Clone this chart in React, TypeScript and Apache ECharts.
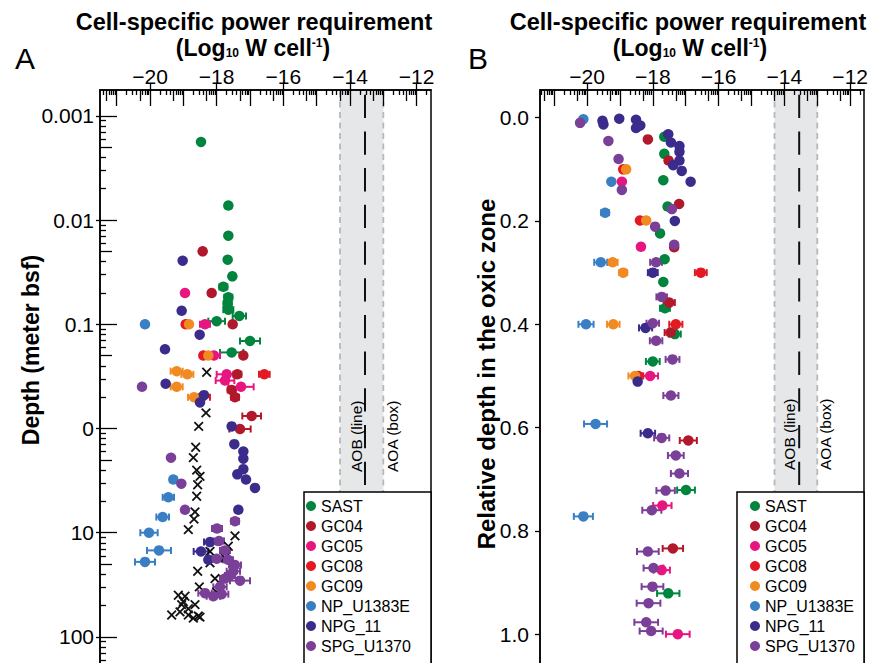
import React, { useEffect, useRef } from 'react';
import * as echarts from 'echarts';

const FONT = '"Liberation Sans", Arial, Helvetica, sans-serif';

const seriesNames = ['SAST', 'GC04', 'GC05', 'GC08', 'GC09', 'NP_U1383E', 'NPG_11', 'SPG_U1370'];
const seriesColors = ['#00843e', '#b2182b', '#e6157f', '#e31a23', '#f28a22', '#3a7fc4', '#3b2c8c', '#7a3f97'];

// Panel A: [log10 W cell-1, log10 depth (m), error half-width]
const sastA = [
  [-18.47, -2.75, 0], [-17.65, -2.14, 0], [-17.65, -1.85, 0], [-17.67, -1.62, 0], [-17.53, -1.46, 0],
  [-17.8, -1.36, 0.12], [-17.65, -1.26, 0.12], [-17.67, -1.2, 0.12], [-17.65, -1.14, 0.15],
  [-17.32, -1.08, 0.2], [-18.0, -1.03, 0.25], [-17.0, -0.84, 0.3], [-17.55, -0.73, 0.35],
];
const gc04A = [
  [-18.42, -1.7, 0], [-18.15, -1.3, 0], [-17.52, -1.0, 0], [-17.2, -0.7, 0], [-17.38, -0.52, 0.12],
  [-17.55, -0.37, 0.12], [-17.45, -0.3, 0.12], [-16.95, -0.12, 0.28], [-17.3, 0.005, 0.32],
];
const gc05A = [
  [-18.95, -1.3, 0], [-18.35, -1.0, 0.15], [-18.08, -0.7, 0.18], [-17.7, -0.52, 0.3],
  [-17.75, -0.46, 0.28], [-17.27, -0.4, 0.38],
];
const gc08A = [
  [-18.93, -1.0, 0], [-18.4, -0.7, 0], [-16.57, -0.52, 0.16], [-18.45, -0.3, 0.25],
];
const gc09A = [
  [-18.83, -1.0, 0], [-18.25, -0.7, 0], [-19.2, -0.55, 0.18], [-18.88, -0.52, 0.18],
  [-19.2, -0.4, 0.18], [-18.68, -0.3, 0.18],
];
const npA = [
  [-20.15, -1.0, 0], [-19.3, 0.49, 0.1], [-19.45, 0.66, 0.17], [-19.62, 0.85, 0.19],
  [-20.03, 1.0, 0.26], [-19.73, 1.17, 0.36], [-20.15, 1.28, 0.3],
];
const npgA = [
  [-19.02, -1.61, 0], [-19.05, -1.13, 0], [-18.51, -0.9, 0], [-19.55, -0.76, 0], [-19.53, -0.43, 0],
  [-18.38, -0.32, 0], [-18.5, -0.25, 0], [-17.55, -0.02, 0], [-17.47, 0.15, 0], [-17.2, 0.22, 0],
  [-17.2, 0.29, 0], [-17.2, 0.39, 0], [-17.38, 0.44, 0], [-17.12, 0.49, 0], [-16.85, 0.57, 0],
  [-17.35, 0.78, 0], [-18.2, 1.09, 0.18], [-18.47, 1.18, 0.22], [-18.25, 1.26, 0],
];
const spgA = [
  [-20.24, -0.4, 0], [-19.37, 0.28, 0], [-19.06, 0.53, 0], [-18.95, 0.78, 0], [-17.45, 0.89, 0.12],
  [-17.99, 0.96, 0.15], [-17.93, 1.08, 0.15], [-17.75, 1.17, 0.15], [-18.0, 1.25, 0.15],
  [-17.66, 1.26, 0.15], [-17.45, 1.31, 0.18], [-17.5, 1.37, 0.2], [-17.6, 1.41, 0.15],
  [-17.75, 1.44, 0.15], [-17.3, 1.46, 0.3], [-17.9, 1.52, 0.2], [-18.35, 1.58, 0.2],
  [-17.85, 1.59, 0.2], [-18.1, 1.61, 0.2],
];
// black crosses in panel A: [log10 W cell-1, log10 depth (m)]
const crossesA = [
  [-18.3, -0.54], [-18.32, -0.15], [-18.54, -0.02], [-18.63, 0.18], [-18.7, 0.28], [-18.6, 0.4],
  [-18.5, 0.46], [-18.57, 0.54], [-18.6, 0.65], [-18.65, 0.8], [-18.68, 0.87], [-18.85, 0.97],
  [-17.45, 1.03], [-17.65, 1.13], [-18.2, 1.18], [-17.75, 1.24], [-18.2, 1.29], [-18.57, 1.37],
  [-18.05, 1.44], [-18.52, 1.52], [-18.0, 1.57], [-19.15, 1.6], [-18.95, 1.61], [-19.05, 1.69],
  [-18.85, 1.73], [-18.65, 1.69], [-19.35, 1.79], [-18.85, 1.79], [-18.5, 1.81], [-18.7, 1.82],
  [-19.1, 1.76], [-19.0, 1.66], [-18.55, 1.8],
];

// Panel B: [log10 W cell-1, relative depth in oxic zone, error half-width]
const sastB = [
  [-17.65, 0.037, 0], [-17.65, 0.07, 0], [-17.68, 0.121, 0], [-17.55, 0.172, 0], [-17.78, 0.224, 0],
  [-17.64, 0.274, 0], [-17.68, 0.318, 0], [-17.63, 0.369, 0.15], [-17.33, 0.419, 0.18],
  [-18.0, 0.472, 0.21], [-16.99, 0.721, 0.27], [-17.53, 0.921, 0.34],
];
const gc04B = [
  [-18.15, 0.042, 0], [-17.52, 0.083, 0], [-17.2, 0.167, 0], [-17.35, 0.251, 0], [-17.5, 0.358, 0.17],
  [-17.46, 0.416, 0.18], [-16.92, 0.625, 0.26], [-17.39, 0.834, 0.31],
];
const gc05B = [
  [-18.94, 0.124, 0], [-18.36, 0.25, 0], [-18.08, 0.5, 0.24], [-17.71, 0.751, 0.28],
  [-17.73, 0.876, 0.25], [-17.24, 1.0, 0.36],
];
const gc08B = [
  [-18.9, 0.1, 0], [-18.39, 0.199, 0], [-16.54, 0.3, 0.18], [-17.3, 0.4, 0.2], [-18.44, 0.5, 0.15],
];
const gc09B = [
  [-18.81, 0.1, 0], [-18.2, 0.199, 0], [-19.22, 0.28, 0.15], [-18.9, 0.3, 0.12], [-19.2, 0.4, 0.19],
  [-18.54, 0.5, 0.2],
];
const npB = [
  [-20.11, 0.003, 0], [-19.26, 0.124, 0], [-19.45, 0.184, 0.12], [-19.58, 0.28, 0.2],
  [-20.03, 0.4, 0.23], [-19.74, 0.593, 0.35], [-20.11, 0.772, 0.29],
];
const npgB = [
  [-19.53, 0.006, 0], [-19.5, 0.013, 0], [-19.02, 0.002, 0], [-18.51, 0.004, 0], [-18.38, 0.015, 0],
  [-18.51, 0.02, 0], [-17.53, 0.032, 0], [-17.45, 0.048, 0], [-17.19, 0.055, 0], [-17.19, 0.066, 0],
  [-17.19, 0.083, 0], [-17.38, 0.092, 0], [-17.12, 0.103, 0], [-16.85, 0.124, 0], [-17.33, 0.2, 0],
  [-18.0, 0.3, 0.15], [-18.22, 0.407, 0.2], [-18.46, 0.511, 0], [-18.15, 0.611, 0.22],
];
const spgB = [
  [-20.21, 0.01, 0], [-19.35, 0.045, 0], [-19.04, 0.08, 0], [-18.94, 0.14, 0], [-17.42, 0.177, 0],
  [-17.93, 0.211, 0], [-17.35, 0.246, 0], [-17.9, 0.28, 0.18], [-17.73, 0.347, 0.16],
  [-18.0, 0.398, 0.19], [-17.9, 0.432, 0.19], [-17.4, 0.468, 0.21], [-17.45, 0.538, 0.23],
  [-17.73, 0.62, 0.23], [-17.3, 0.654, 0.24], [-17.19, 0.689, 0.26], [-17.61, 0.722, 0.28],
  [-18.03, 0.76, 0.29], [-18.15, 0.84, 0.33], [-17.98, 0.872, 0.3], [-18.01, 0.908, 0.33],
  [-18.13, 0.94, 0.36], [-18.2, 0.977, 0.36], [-18.05, 0.994, 0.35],
];

const groupsA = [sastA, gc04A, gc05A, gc08A, gc09A, npA, npgA, spgA];
const groupsB = [sastB, gc04B, gc05B, gc08B, gc09B, npB, npgB, spgB];

// axes
const xTickLabels = [-20, -18, -16, -14, -12];
const depthTickValues = [-3, -2, -1, 0, 1, 2];
const depthTickLabels = ['0.001', '0.01', '0.1', '0', '10', '100'];
const relTickValues = [0, 0.2, 0.4, 0.6, 0.8, 1.0];
const relTickLabels = ['0.0', '0.2', '0.4', '0.6', '0.8', '1.0'];
// reference ranges
const aoaBox = [-14.3, -13.0];
const aobLine = -13.55;

const fmtMinus = (v: number) => (v < 0 ? '\u2212' + Math.abs(v) : String(v));
const tickLine = { color: '#000', width: 1.3 };

function buildXAxes(gridIndex: number, min: number, max: number) {
  const inR = (v: number) => v >= min + 0.01 && v <= max - 0.01;
  const ints: number[] = [];
  const mids: number[] = [];
  const minors: number[] = [];
  for (let n = -23; n <= -10; n++) {
    if (inR(n)) ints.push(n);
    const m = n + Math.log10(5);
    if (inR(m)) mids.push(m);
    [2, 3, 4, 6, 7, 8, 9].forEach((k) => {
      const v = n + Math.log10(k);
      if (inR(v)) minors.push(v);
    });
  }
  const base = {
    type: 'value', gridIndex, min, max, position: 'top', z: 5,
    splitLine: { show: false }, axisLine: { show: false, onZero: false },
  };
  return [
    {
      ...base,
      axisLine: { show: true, onZero: false, lineStyle: { color: '#000', width: 1.5 } },
      axisTick: { show: true, inside: false, length: 6, customValues: xTickLabels, lineStyle: tickLine },
      axisLabel: { show: true, customValues: xTickLabels, formatter: fmtMinus, fontSize: 21, color: '#000', fontFamily: FONT, margin: 3 },
    },
    { ...base, axisTick: { show: true, inside: true, length: 16, customValues: ints, lineStyle: tickLine }, axisLabel: { show: false } },
    { ...base, axisTick: { show: true, inside: true, length: 11, customValues: mids, lineStyle: tickLine }, axisLabel: { show: false } },
    { ...base, axisTick: { show: true, inside: true, length: 5, customValues: minors, lineStyle: tickLine }, axisLabel: { show: false } },
  ];
}

function buildDepthAxes(gridIndex: number, min: number, max: number) {
  const inR = (v: number) => v >= min + 0.005 && v <= max - 0.005;
  const k5: number[] = [];
  const minors: number[] = [];
  for (let n = -4; n <= 3; n++) {
    const m = n + 1 - Math.log10(5);
    if (inR(m)) k5.push(m);
    [2, 3, 4, 6, 7, 8, 9].forEach((k) => {
      const v = n + 1 - Math.log10(k);
      if (inR(v)) minors.push(v);
    });
  }
  const base = {
    type: 'value', gridIndex, min, max, inverse: true, position: 'left', z: 5,
    splitLine: { show: false }, axisLine: { show: false, onZero: false },
  };
  return [
    {
      ...base,
      axisLine: { show: true, onZero: false, lineStyle: { color: '#000', width: 1.5 } },
      axisTick: { show: true, inside: false, length: 4, customValues: depthTickValues, lineStyle: tickLine },
      axisLabel: {
        show: true, customValues: depthTickValues, fontSize: 21, color: '#000', fontFamily: FONT, margin: 6,
        formatter: (v: number) => depthTickLabels[depthTickValues.indexOf(Math.round(v))],
      },
    },
    { ...base, axisTick: { show: true, inside: true, length: 17, customValues: depthTickValues, lineStyle: tickLine }, axisLabel: { show: false } },
    { ...base, axisTick: { show: true, inside: true, length: 12, customValues: k5, lineStyle: tickLine }, axisLabel: { show: false } },
    { ...base, axisTick: { show: true, inside: true, length: 6, customValues: minors, lineStyle: tickLine }, axisLabel: { show: false } },
  ];
}

function buildRelAxis(gridIndex: number, min: number, max: number) {
  return {
    type: 'value', gridIndex, min, max, inverse: true, position: 'left', z: 5,
    splitLine: { show: false },
    axisLine: { show: true, onZero: false, lineStyle: { color: '#000', width: 1.5 } },
    axisTick: { show: true, inside: false, length: 5, customValues: relTickValues, lineStyle: tickLine },
    axisLabel: {
      show: true, customValues: relTickValues, fontSize: 21, color: '#000', fontFamily: FONT, margin: 11,
      formatter: (v: number) => relTickLabels[relTickValues.findIndex((t) => Math.abs(t - v) < 1e-6)],
    },
  };
}

const errRender = (color: string) => (params: any, api: any) => {
  const x = api.value(0), y = api.value(1), e = api.value(2);
  const a = api.coord([x - e, y]);
  const b = api.coord([x + e, y]);
  const st = { stroke: color, lineWidth: 2 };
  return {
    type: 'group',
    children: [
      { type: 'line', shape: { x1: a[0], y1: a[1], x2: b[0], y2: b[1] }, style: st },
      { type: 'line', shape: { x1: a[0], y1: a[1] - 3.5, x2: a[0], y2: a[1] + 3.5 }, style: st },
      { type: 'line', shape: { x1: b[0], y1: b[1] - 3.5, x2: b[0], y2: b[1] + 3.5 }, style: st },
    ],
  };
};

const bandRender = (params: any, api: any) => {
  const cs = params.coordSys;
  const x0 = api.coord([api.value(0), 0])[0];
  const x1 = api.coord([api.value(1), 0])[0];
  const xm = api.coord([api.value(2), 0])[0];
  const top = cs.y + 1;
  const bot = cs.y + cs.height;
  const edge = { stroke: '#b8b8b8', lineWidth: 1.8, lineDash: [6, 4.5] };
  return {
    type: 'group',
    children: [
      { type: 'rect', shape: { x: x0, y: top, width: x1 - x0, height: bot - top }, style: { fill: '#e6e7e9' } },
      { type: 'line', shape: { x1: x0, y1: top, x2: x0, y2: bot }, style: edge },
      { type: 'line', shape: { x1: x1, y1: top, x2: x1, y2: bot }, style: edge },
      {
        type: 'line', shape: { x1: xm, y1: cs.y, x2: xm, y2: bot },
        style: { stroke: '#111', lineWidth: 2, lineDash: [23.3, 13.4], lineDashOffset: 31.7 },
      },
    ],
  };
};

const crossRender = (params: any, api: any) => {
  const c = api.coord([api.value(0), api.value(1)]);
  const s = 4.3;
  const st = { stroke: '#111', lineWidth: 1.8 };
  return {
    type: 'group',
    children: [
      { type: 'line', shape: { x1: c[0] - s, y1: c[1] - s, x2: c[0] + s, y2: c[1] + s }, style: st },
      { type: 'line', shape: { x1: c[0] - s, y1: c[1] + s, x2: c[0] + s, y2: c[1] - s }, style: st },
    ],
  };
};

function panelSeries(groups: number[][][], xi: number, yi: number, tag: string) {
  const out: any[] = [];
  out.push({
    type: 'custom', name: 'band' + tag, xAxisIndex: xi, yAxisIndex: yi, z: 1, silent: true,
    data: [[aoaBox[0], aoaBox[1], aobLine]], renderItem: bandRender,
  });
  groups.forEach((data, i) => {
    out.push({
      type: 'custom', name: seriesNames[i] + ' err' + tag, xAxisIndex: xi, yAxisIndex: yi, z: 2, silent: true,
      data: data.filter((d) => d[2] > 0), renderItem: errRender(seriesColors[i]),
    });
  });
  groups.forEach((data, i) => {
    out.push({
      type: 'scatter', name: seriesNames[i], xAxisIndex: xi, yAxisIndex: yi, z: 3,
      symbol: 'circle', symbolSize: 10.5, itemStyle: { color: seriesColors[i], opacity: 1 },
      data: data.map((d) => [d[0], d[1]]),
    });
  });
  return out;
}

const legendBase = {
  data: seriesNames, orient: 'vertical', top: 496, itemWidth: 10, itemHeight: 10, itemGap: 0, padding: 0,
  icon: 'circle', selectedMode: false, z: 10,
  textStyle: { fontSize: 16, lineHeight: 20, color: '#000', fontFamily: FONT },
};

const boldText = (text: string, x: number, y: number, size: number, rotation = 0) => ({
  type: 'text', x, y, rotation, z: 20,
  style: {
    text, fill: '#000', fontSize: size, fontWeight: 'bold', fontFamily: FONT, lineHeight: size - 4,
    align: 'center', verticalAlign: 'middle', textAlign: 'center', textVerticalAlign: 'middle',
  },
});

const unitText = (x: number, y: number) => ({
  type: 'text', x, y, z: 20,
  style: {
    text: '{m|(Log}{s|10}{m| W cell}{p|-1}{m|)}',
    align: 'center', verticalAlign: 'middle', textAlign: 'center', textVerticalAlign: 'middle',
    rich: {
      m: { fontSize: 23, fontWeight: 'bold', fontFamily: FONT, fill: '#000', color: '#000', lineHeight: 22 },
      s: { fontSize: 12, fontWeight: 'bold', fontFamily: FONT, fill: '#000', color: '#000', verticalAlign: 'bottom', lineHeight: 22 },
      p: { fontSize: 12, fontWeight: 'bold', fontFamily: FONT, fill: '#000', color: '#000', verticalAlign: 'top', lineHeight: 22 },
    },
  },
});

const plainText = (text: string, x: number, y: number, size: number, rotation = 0, align = 'center') => ({
  type: 'text', x, y, rotation, z: 20,
  style: {
    text, fill: '#000', fontSize: size, fontFamily: FONT,
    align, verticalAlign: 'middle', textAlign: align, textVerticalAlign: 'middle',
  },
});

export default function App() {
  const ref = useRef<HTMLDivElement>(null);
  useEffect(() => {
    if (!ref.current) return;
    const chart = echarts.init(ref.current, null, { renderer: 'svg' });
    const aX = [-21.5, -11.57];
    const aY = [-3.2486, 2.5096];
    const bX = [-21.4286, -11.58];
    const bY = [-0.0536, 1.1081];
    const option: any = {
      animation: false,
      grid: [
        { left: 100, top: 90, width: 331, height: 600, show: true, borderColor: '#000', borderWidth: 1.5, backgroundColor: 'transparent' },
        { left: 540, top: 90, width: 324, height: 600, show: true, borderColor: '#000', borderWidth: 1.5, backgroundColor: 'transparent' },
      ],
      xAxis: [...buildXAxes(0, aX[0], aX[1]), ...buildXAxes(1, bX[0], bX[1])],
      yAxis: [...buildDepthAxes(0, aY[0], aY[1]), buildRelAxis(1, bY[0], bY[1])],
      legend: [
        { ...legendBase, left: 306 },
        { ...legendBase, left: 750 },
      ],
      series: [
        ...panelSeries(groupsA, 0, 0, 'A'),
        {
          type: 'custom', name: 'crossesA', xAxisIndex: 0, yAxisIndex: 0, z: 3, silent: true,
          data: crossesA, renderItem: crossRender,
        },
        ...panelSeries(groupsB, 4, 4, 'B'),
      ],
      graphic: {
        elements: [
          { type: 'rect', z: 8, shape: { x: 304, y: 492, width: 127, height: 230 }, style: { fill: '#fff', stroke: '#000', lineWidth: 1.5 } },
          { type: 'rect', z: 8, shape: { x: 737, y: 492, width: 127, height: 230 }, style: { fill: '#fff', stroke: '#000', lineWidth: 1.5 } },
          boldText('Cell-specific power requirement', 254, 21.5, 23.5),
          unitText(253, 48),
          boldText('Cell-specific power requirement', 688, 21.5, 23.5),
          unitText(690, 48),
          plainText('A', 25, 58, 30),
          plainText('B', 478, 58, 30),
          boldText('Depth (meter bsf)', 31, 350, 23, Math.PI / 2),
          boldText('Relative depth in the oxic zone', 486, 374, 24, Math.PI / 2),
          plainText('AOB (line)', 356.7, 472, 15.5, Math.PI / 2, 'left'),
          plainText('AOA (box)', 392.7, 472, 15.5, Math.PI / 2, 'left'),
          plainText('AOB (line)', 789.3, 470, 15.5, Math.PI / 2, 'left'),
          plainText('AOA (box)', 825.7, 470, 15.5, Math.PI / 2, 'left'),
        ],
      },
    };
    chart.setOption(option);
    return () => chart.dispose();
  }, []);
  return (
    <div style={{ position: 'absolute', left: 0, top: 0, width: 877, height: 663, overflow: 'hidden' }}>
      <div ref={ref} style={{ width: 877, height: 700 }} />
    </div>
  );
}
